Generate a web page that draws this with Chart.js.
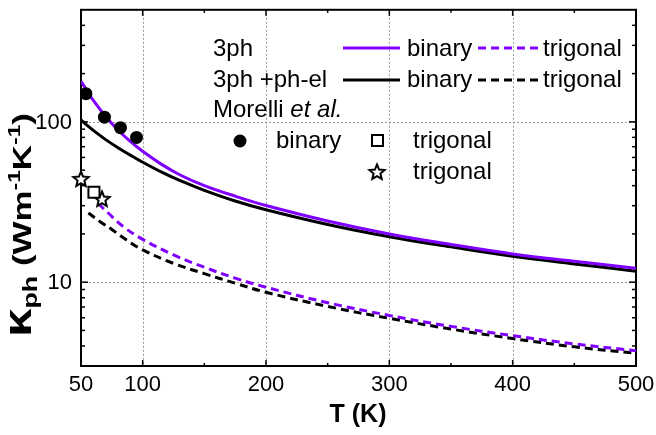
<!DOCTYPE html>
<html>
<head>
<meta charset="utf-8">
<script src="https://cdn.jsdelivr.net/npm/chart.js@4/dist/chart.umd.min.js"></script>
<style>
  html, body { margin: 0; padding: 0; background: #fff; }
  #wrap { width: 656px; height: 435px; }
</style>
</head>
<body>
<div id="wrap"><canvas id="c" width="656" height="435"></canvas></div>
<script>
// Phonon thermal conductivity of Bi vs temperature
const tBinary = [50, 55, 60, 70, 80, 90, 100, 115, 130, 150, 175, 200, 250, 300, 350, 400, 450, 500];
const k3phBinary = [179, 156, 136, 108, 89, 75.5, 65.5, 54.5, 46.8, 40, 34.4, 30.1, 24.1, 20, 17.2, 15, 13.5, 12.2];
const kPhElBinary = [103, 95, 88.5, 77.5, 69, 62, 56, 48.7, 43.1, 37.4, 32.1, 28.3, 22.9, 19.2, 16.6, 14.5, 13, 11.7];

const tTrig3ph = [64, 72, 85, 100, 125, 150, 175, 200, 250, 300, 350, 400, 450, 500];
const k3phTrig = [31, 27, 22, 18.5, 14.8, 12.4, 10.6, 9.3, 7.45, 6.2, 5.3, 4.64, 4.12, 3.74];
const tTrigPhEl = [56, 65, 75, 87, 100, 125, 150, 175, 200, 250, 300, 350, 400, 450, 500];
const kPhElTrig = [27, 24, 21.3, 18.3, 15.9, 13.1, 11.3, 9.85, 8.65, 7.06, 5.95, 5.1, 4.45, 3.95, 3.6];

// Morelli et al. measurements
const tExpBinary = [54, 69, 82, 95];
const kExpBinary = [150, 107, 92, 80];
const tExpTrigSq = [60.5];
const kExpTrigSq = [36.4];
const tExpTrigStar = [50, 67];
const kExpTrigStar = [44, 33];

// Axis ticks
const xTickValues = [50, 100, 200, 300, 400, 500];
const xGridValues = [100, 200, 300, 400];
const xMinorValues = [150, 250, 350, 450];
const yTickValues = [10, 100];
const yMinorValues = [4, 5, 6, 7, 8, 9, 20, 30, 40, 50, 60, 70, 80, 90, 200, 300, 400];

const PURPLE = '#8000ff';
const FONT = "'Liberation Sans', Arial, sans-serif";
const DASH = [8, 5];

const pts = (xs, ys) => xs.map((x, i) => ({ x, y: ys[i] }));

function makeStar(R, r, lw) {
  const cv = document.createElement('canvas');
  const size = Math.ceil(2 * R + 2 * lw + 2);
  cv.width = cv.height = size;
  const c = cv.getContext('2d');
  c.translate(size / 2, size / 2 + 0.5);
  c.beginPath();
  for (let i = 0; i < 10; i++) {
    const rad = i % 2 ? r : R;
    const a = -Math.PI / 2 + i * Math.PI / 5;
    c.lineTo(rad * Math.cos(a), rad * Math.sin(a));
  }
  c.closePath();
  c.fillStyle = '#fff';
  c.fill();
  c.lineWidth = lw;
  c.strokeStyle = '#000';
  c.stroke();
  return cv;
}
const starImg = makeStar(8, 3.6, 2);

const lineDs = (label, data, color, dashed) => ({
  label, data,
  borderColor: color,
  borderWidth: 3,
  borderDash: dashed ? DASH : [],
  pointRadius: 0,
  fill: false,
  tension: 0.4
});

const frameAndLegend = {
  id: 'frameAndLegend',
  beforeDatasetsDraw(chart) {
    const { ctx, chartArea: a, scales: { x, y } } = chart;
    ctx.save();
    // dotted grid
    ctx.strokeStyle = '#9a9a9a';
    ctx.lineWidth = 1;
    ctx.setLineDash([2, 2]);
    xGridValues.forEach(v => {
      const px = Math.round(x.getPixelForValue(v)) + 0.5;
      ctx.beginPath(); ctx.moveTo(px, a.top); ctx.lineTo(px, a.bottom); ctx.stroke();
    });
    yTickValues.forEach(v => {
      const py = Math.round(y.getPixelForValue(v)) + 0.5;
      ctx.beginPath(); ctx.moveTo(a.left, py); ctx.lineTo(a.right, py); ctx.stroke();
    });
    ctx.setLineDash([]);
    // frame
    ctx.strokeStyle = '#000';
    ctx.lineWidth = 2;
    ctx.strokeRect(a.left, a.top, a.right - a.left, a.bottom - a.top);
    // inward ticks
    const tick = (x1, y1, x2, y2) => { ctx.beginPath(); ctx.moveTo(x1, y1); ctx.lineTo(x2, y2); ctx.stroke(); };
    ctx.lineWidth = 1.5;
    xGridValues.forEach(v => {
      const px = x.getPixelForValue(v);
      tick(px, a.bottom, px, a.bottom - 6);
      tick(px, a.top, px, a.top + 6);
    });
    xMinorValues.forEach(v => {
      const px = x.getPixelForValue(v);
      tick(px, a.bottom, px, a.bottom - 3);
      tick(px, a.top, px, a.top + 3);
    });
    yTickValues.forEach(v => {
      const py = y.getPixelForValue(v);
      tick(a.left, py, a.left + 7, py);
      tick(a.right, py, a.right - 7, py);
    });
    yMinorValues.forEach(v => {
      const py = y.getPixelForValue(v);
      tick(a.left, py, a.left + 4, py);
      tick(a.right, py, a.right - 4, py);
    });
    // tick labels
    ctx.fillStyle = '#000';
    ctx.font = `22px ${FONT}`;
    ctx.textBaseline = 'middle';
    ctx.textAlign = 'center';
    xTickValues.forEach(v => ctx.fillText(String(v), x.getPixelForValue(v), a.bottom + 19));
    ctx.textAlign = 'right';
    yTickValues.forEach(v => ctx.fillText(String(v), a.left - 9, y.getPixelForValue(v) + 1));
    ctx.restore();
  },
  afterDatasetsDraw(chart) {
    const { ctx } = chart;
    ctx.save();
    ctx.fillStyle = '#000';
    ctx.textBaseline = 'middle';
    ctx.textAlign = 'left';
    const f = `24px ${FONT}`;
    ctx.font = f;
    // legend rows
    ctx.fillText('3ph', 213, 49);
    ctx.fillText('3ph +ph-el', 213, 80);
    ctx.fillText('Morelli ', 213, 110);
    const mw = ctx.measureText('Morelli ').width;
    ctx.font = `italic 24px ${FONT}`;
    ctx.fillText('et al.', 213 + mw, 110);
    ctx.font = f;
    ctx.fillText('binary', 407, 49);
    ctx.fillText('trigonal', 543, 49);
    ctx.fillText('binary', 407, 80);
    ctx.fillText('trigonal', 543, 80);
    ctx.fillText('binary', 276, 141);
    ctx.fillText('trigonal', 413, 141);
    ctx.fillText('trigonal', 413, 172);
    // legend line samples
    const sample = (x1, x2, yy, color, dashed) => {
      ctx.beginPath();
      ctx.strokeStyle = color;
      ctx.lineWidth = 3;
      ctx.setLineDash(dashed ? DASH : []);
      ctx.moveTo(x1, yy); ctx.lineTo(x2, yy); ctx.stroke();
    };
    sample(343, 400, 48, PURPLE, false);
    sample(478, 538, 48, PURPLE, true);
    sample(343, 400, 80, '#000', false);
    sample(478, 538, 80, '#000', true);
    ctx.setLineDash([]);
    // legend markers
    ctx.beginPath(); ctx.arc(240, 141, 6.5, 0, Math.PI * 2); ctx.fillStyle = '#000'; ctx.fill();
    ctx.fillStyle = '#fff'; ctx.strokeStyle = '#000'; ctx.lineWidth = 2;
    ctx.fillRect(372, 135, 11, 11); ctx.strokeRect(372, 135, 11, 11);
    ctx.drawImage(starImg, 377 - starImg.width / 2, 172 - starImg.height / 2);

    // x axis title
    ctx.fillStyle = '#000';
    ctx.textAlign = 'center';
    ctx.font = `bold 25px ${FONT}`;
    ctx.fillText('T (K)', 358, 415);

    // y axis title with sub/superscripts, rotated
    const parts = [
      { t: 'κ', font: `bold 38px ${FONT}`, dy: 0 },
      { t: 'ph', font: `bold 20px ${FONT}`, dy: 6 },
      { t: ' (Wm', font: `bold 26px ${FONT}`, dy: 0 },
      { t: '-1', font: `bold 17px ${FONT}`, dy: -11 },
      { t: 'K', font: `bold 26px ${FONT}`, dy: 0 },
      { t: '-1', font: `bold 17px ${FONT}`, dy: -11 },
      { t: ')', font: `bold 26px ${FONT}`, dy: 0 }
    ];
    let total = 0;
    parts.forEach(p => { ctx.font = p.font; p.w = ctx.measureText(p.t).width; total += p.w; });
    const span = 224;
    ctx.translate(31, 225);
    ctx.rotate(-Math.PI / 2);
    ctx.scale(span / total, 1);
    ctx.textAlign = 'left';
    ctx.textBaseline = 'alphabetic';
    let xo = -total / 2;
    parts.forEach(p => { ctx.font = p.font; ctx.fillText(p.t, xo, p.dy); xo += p.w; });
    ctx.restore();
  }
};

new Chart(document.getElementById('c'), {
  type: 'line',
  data: {
    datasets: [
      { label: 'Morelli binary', data: pts(tExpBinary, kExpBinary), showLine: false,
        pointStyle: 'circle', pointRadius: 6.5, backgroundColor: '#000', borderColor: '#000', borderWidth: 0 },
      { label: 'Morelli trigonal (square)', data: pts(tExpTrigSq, kExpTrigSq), showLine: false,
        pointStyle: 'rect', pointRadius: 7.8, backgroundColor: '#fff', borderColor: '#000', borderWidth: 2 },
      { label: 'trigonal (star)', data: pts(tExpTrigStar, kExpTrigStar), showLine: false,
        pointStyle: starImg, pointRadius: 8, clip: false },
      lineDs('3ph binary', pts(tBinary, k3phBinary), PURPLE, false),
      lineDs('3ph+ph-el binary', pts(tBinary, kPhElBinary), '#000', false),
      lineDs('3ph trigonal', pts(tTrig3ph, k3phTrig), PURPLE, true),
      lineDs('3ph+ph-el trigonal', pts(tTrigPhEl, kPhElTrig), '#000', true)
    ]
  },
  options: {
    responsive: false,
    animation: false,
    devicePixelRatio: 1,
    layout: { padding: { left: 0, right: 20, top: 5, bottom: 0 } },
    plugins: { legend: { display: false }, tooltip: { enabled: false } },
    scales: {
      x: {
        type: 'linear', min: 50, max: 500,
        afterBuildTicks: s => { s.ticks = xTickValues.map(v => ({ value: v })); },
        afterFit: s => { s.height = 69; },
        grid: { display: false, drawTicks: false },
        border: { display: false },
        ticks: { display: false }
      },
      y: {
        type: 'logarithmic', min: 3, max: 500,
        afterBuildTicks: s => { s.ticks = yTickValues.map(v => ({ value: v })); },
        afterFit: s => { s.width = 81; },
        grid: { display: false, drawTicks: false },
        border: { display: false },
        ticks: { display: false }
      }
    }
  },
  plugins: [frameAndLegend]
});
</script>
</body>
</html>
